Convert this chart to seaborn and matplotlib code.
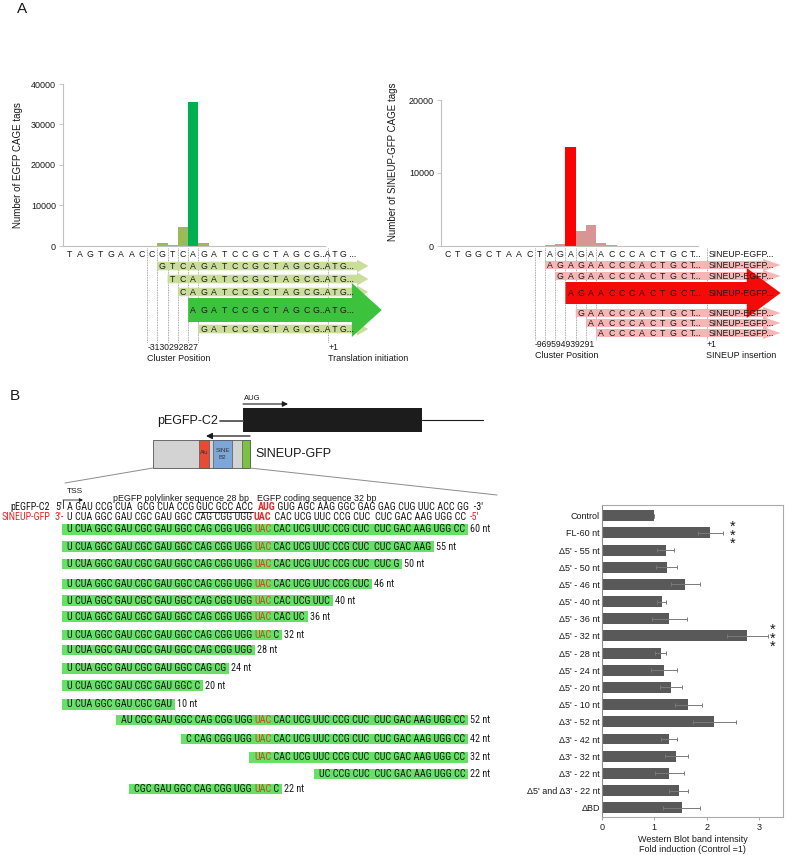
import numpy as np
import pandas as pd
import seaborn as sns
import matplotlib
matplotlib.use("Agg")
import matplotlib.pyplot as plt
from matplotlib import font_manager as fm
from matplotlib.transforms import blended_transform_factory
from matplotlib.patches import Polygon, Rectangle

# ---------------- data ----------------
egfp_bases = list("TAGTGAACCGTCAGATCCGCTAGCG")
egfp_tags = [0, 0, 0, 0, 0, 0, 0, 0, 0, 800, 300, 4800, 35500, 700,
             0, 0, 0, 0, 0, 0, 0, 0, 0, 0, 0]
egfp_peak = 12
egfp_clusters = ["-31", "30", "29", "28", "27"]
egfp_read_starts = [9, 10, 11, 12, 13]

sineup_bases = list("CTGGCTAACTAGAGAACCCACTGCT")
sineup_tags = [0, 0, 0, 0, 0, 0, 0, 0, 0, 60, 150, 300, 13600, 2100, 2900, 450, 80,
               0, 0, 0, 0, 0, 0, 0, 0]
sineup_peak = 12
sineup_clusters = ["-96", "95", "94", "93", "92", "91"]
sineup_read_starts = [10, 11, 12, 13, 14, 15]

constructs = ["Control", "FL-60 nt", "Δ5' - 55 nt", "Δ5' - 50 nt", "Δ5' - 46 nt",
              "Δ5' - 40 nt", "Δ5' - 36 nt", "Δ5' - 32 nt", "Δ5' - 28 nt", "Δ5' - 24 nt",
              "Δ5' - 20 nt", "Δ5' - 10 nt", "Δ3' - 52 nt", "Δ3' - 42 nt", "Δ3' - 32 nt",
              "Δ3' - 22 nt", "Δ5' and Δ3' - 22 nt", "ΔBD"]
fold_mean = [1.00, 2.07, 1.22, 1.24, 1.59, 1.14, 1.29, 2.78, 1.12, 1.19,
             1.32, 1.65, 2.15, 1.28, 1.42, 1.29, 1.47, 1.52]
fold_err = [0.0, 0.24, 0.16, 0.20, 0.28, 0.085, 0.34, 0.40, 0.11, 0.25,
            0.21, 0.26, 0.42, 0.15, 0.22, 0.28, 0.18, 0.35]
significant = ["FL-60 nt", "Δ5' - 32 nt"]
star_x = [2.50, 3.27]

sineup_full = "U CUA GGC GAU CGC GAU GGC CAG CGG UGG UAC CAC UCG UUC CCG CUC  CUC GAC AAG UGG CC"
deletion_seqs = [
    "U CUA GGC GAU CGC GAU GGC CAG CGG UGG UAC CAC UCG UUC CCG CUC  CUC GAC AAG UGG CC",
    "U CUA GGC GAU CGC GAU GGC CAG CGG UGG UAC CAC UCG UUC CCG CUC  CUC GAC AAG",
    "U CUA GGC GAU CGC GAU GGC CAG CGG UGG UAC CAC UCG UUC CCG CUC  CUC G",
    "U CUA GGC GAU CGC GAU GGC CAG CGG UGG UAC CAC UCG UUC CCG CUC",
    "U CUA GGC GAU CGC GAU GGC CAG CGG UGG UAC CAC UCG UUC",
    "U CUA GGC GAU CGC GAU GGC CAG CGG UGG UAC CAC UC",
    "U CUA GGC GAU CGC GAU GGC CAG CGG UGG UAC C",
    "U CUA GGC GAU CGC GAU GGC CAG CGG UGG",
    "U CUA GGC GAU CGC GAU GGC CAG CG",
    "U CUA GGC GAU CGC GAU GGC C",
    "U CUA GGC GAU CGC GAU",
    "AU CGC GAU GGC CAG CGG UGG UAC CAC UCG UUC CCG CUC  CUC GAC AAG UGG CC",
    "C CAG CGG UGG UAC CAC UCG UUC CCG CUC  CUC GAC AAG UGG CC",
    "UAC CAC UCG UUC CCG CUC  CUC GAC AAG UGG CC",
    "UC CCG CUC  CUC GAC AAG UGG CC",
    "CGC GAU GGC CAG CGG UGG UAC C",
]
deletion_nt = [60, 55, 50, 46, 40, 36, 32, 28, 24, 20, 10, 52, 42, 32, 22, 22]

pegfp_segments = [("A GAU CCG CUA  GCG CUA CCG ", "k", "normal"),
                  ("GUC GCC ACC", "k", "normal"),
                  ("  ", "k", "normal"),
                  ("AUG", "#e3262a", "bold"),
                  (" GUG AGC AAG GGC GAG GAG CUG UUC ACC GG  -3'", "k", "normal")]
sineup_segments = [("U CUA GGC GAU CGC GAU GGC CAG CGG UGG ", "k", "normal"),
                   ("UAC", "#e3262a", "bold"),
                   (" CAC UCG UUC CCG CUC  CUC GAC AAG UGG CC  ", "k", "normal"),
                   ("-5'", "#e3262a", "normal")]

# ---------------- style ----------------
sns.set_theme(style="white", context="paper")
plt.rcParams["font.family"] = ["Liberation Sans", "DejaVu Sans"]

_names = {f.name for f in fm.fontManager.ttflist}
SEQ_FAMILY = "Liberation Sans"
for _cand in ["Liberation Sans Narrow", "DejaVu Sans Condensed", "Roboto Condensed",
              "Open Sans Condensed"]:
    if _cand in _names:
        SEQ_FAMILY = _cand
        break


def adv(s, fs, family=None, weight="normal"):
    family = family or SEQ_FAMILY
    path = fm.findfont(fm.FontProperties(family=family, weight=weight))
    font = fm.get_font(path)
    font.set_size(fs, 100)
    tot = 0.0
    for ch in s:
        g = font.load_char(ord(ch))
        tot += g.linearHoriAdvance / 65536.0
    return tot


# the full 60-nt line spans ~398 px in the reference: pick the font size that fits
SEQ_FS = round(6.0 * 398.0 / adv(sineup_full, 6.0), 2)

W, H = 786, 855
fig = plt.figure(figsize=(W / 100, H / 100), dpi=100)


def axrect(x0, y0, x1, y1):
    return [x0 / W, 1 - y1 / H, (x1 - x0) / W, (y1 - y0) / H]


ov = fig.add_axes([0, 0, 1, 1], zorder=10)
ov.set_xlim(0, W)
ov.set_ylim(H, 0)
ov.axis("off")
ov.patch.set_alpha(0)

TXT = "#1a1a1a"


# ---------------- panel A ----------------
def hist_panel(rect, bases, tags, peak, peak_color, minor_color, ymax, yticks, ylabel, xlim, lab_xy):
    ax = fig.add_axes(rect)
    df = pd.DataFrame({"pos": [str(i) for i in range(len(bases))], "tags": tags})
    pal = {str(i): (peak_color if i == peak else minor_color) for i in range(len(bases))}
    sns.barplot(data=df, x="pos", y="tags", hue="pos", palette=pal, width=1.0,
                saturation=1, legend=False, ax=ax, linewidth=0, errorbar=None)
    ax.set_xlim(*xlim)
    ax.set_ylim(0, ymax)
    ax.set_yticks(yticks)
    ax.set_yticklabels([str(v) for v in yticks])
    ax.set_xticks([])
    ax.set_xlabel("")
    ax.set_ylabel(ylabel, fontsize=7, color=TXT)
    ax.yaxis.set_label_coords(*lab_xy)
    for s in ["top", "right"]:
        ax.spines[s].set_visible(False)
    for s in ["left", "bottom"]:
        ax.spines[s].set_color("#c0c0c0")
        ax.spines[s].set_linewidth(0.8)
    ax.tick_params(axis="y", left=True, length=3, width=0.6, color="#c0c0c0",
                   labelsize=6.5, pad=2, labelcolor=TXT)
    ax.patch.set_alpha(0)
    return ax


axL = hist_panel(axrect(63, 84, 325, 246), egfp_bases, egfp_tags, egfp_peak,
                 "#00b050", "#9bbb59", 40000, [0, 10000, 20000, 30000, 40000],
                 "Number of EGFP CAGE tags", (-0.654, 24.79), (-0.153, 0.5))
axR = hist_panel(axrect(441, 100, 698, 246), sineup_bases, sineup_tags, sineup_peak,
                 "#ff0000", "#d99594", 20000, [0, 10000, 20000],
                 "Number of SINEUP-GFP CAGE tags", (-0.654, 24.44), (-0.167, 0.575))

LET_FS = 6.3


def read_rows(ax, bases, starts, peak_start, row_y, light, dark, band_end, tip, big_head, big_tip,
              hh, HH, bh, BH, tail_text, extra_text, extra_x, axis_tail, clusters,
              line_bottom, plus_x, lab_y, plus_label):
    tr = blended_transform_factory(ax.transData, ov.transData)
    n = len(bases)
    for j in range(n - 1):
        ov.text(j, 254, bases[j], transform=tr, ha="center", va="center", fontsize=LET_FS, color=TXT)
    ov.text(n - 1 - 0.36, 254, axis_tail, transform=tr, ha="left", va="center", fontsize=LET_FS, color=TXT)
    if extra_text:
        ov.text(extra_x, 254, extra_text, transform=tr, ha="left", va="center", fontsize=LET_FS, color=TXT)
    for s, y in zip(starts, row_y):
        x0 = s - 0.5
        if s == peak_start:
            pts = [(x0, y - bh), (big_head, y - bh), (big_head, y - BH), (big_tip, y),
                   (big_head, y + BH), (big_head, y + bh), (x0, y + bh)]
            ov.add_patch(Polygon(pts, closed=True, transform=tr, facecolor=dark, edgecolor="none",
                                 zorder=3, clip_on=False))
        else:
            pts = [(x0, y - hh), (band_end, y - hh), (band_end, y - HH), (tip, y),
                   (band_end, y + HH), (band_end, y + hh), (x0, y + hh)]
            ov.add_patch(Polygon(pts, closed=True, transform=tr, facecolor=light, edgecolor="none",
                                 alpha=0.95, zorder=2, clip_on=False))
        for j in range(s, n - 1):
            ov.text(j, y, bases[j], transform=tr, ha="center", va="center", fontsize=LET_FS,
                    color=TXT, zorder=5)
        ov.text(n - 1 - 0.36, y, tail_text, transform=tr, ha="left", va="center",
                fontsize=LET_FS, color=TXT, zorder=5)
        if extra_text:
            ov.text(extra_x, y, extra_text, transform=tr, ha="left", va="center",
                    fontsize=LET_FS, color=TXT, zorder=5)
    first = min(starts) - 1.5
    for k in range(len(starts) + 1):
        c = first + k
        ov.plot([c, c], [248, line_bottom], transform=tr, ls=(0, (1, 1)), color="#8c8c8c",
                lw=0.6, zorder=1)
    ov.plot([plus_x, plus_x], [248, line_bottom], transform=tr, ls=(0, (1, 1)), color="#8c8c8c",
            lw=0.6, zorder=1)
    ov.text(first + 0.02, lab_y, "".join(clusters), transform=tr, ha="left", va="center",
            fontsize=6.2, color=TXT)
    ov.text(first + 0.02, lab_y + 11, "Cluster Position", transform=tr, ha="left", va="center",
            fontsize=6.5, color=TXT)
    ov.text(plus_x + 0.02, lab_y, "+1", transform=tr, ha="left", va="center", fontsize=6.2, color=TXT)
    ov.text(plus_x - 0.05, lab_y + 11, plus_label, transform=tr, ha="left", va="center",
            fontsize=6.5, color=TXT)


read_rows(axL, egfp_bases, egfp_read_starts, 12, [266, 279, 292, 310, 329],
          "#c9dc96", "#3cc23c", 27.9, 29.0, 27.4, 30.3, 4.3, 6.5, 12.0, 27.0,
          "G..A T G...", None, 0, "G..A T G ...", egfp_clusters, 343, 25.1, 347,
          "Translation initiation")
read_rows(axR, sineup_bases, sineup_read_starts, 12, [265, 276, 293, 313, 323, 333],
          "#f6b2b2", "#f50a0a", 30.8, 32.5, 29.2, 32.5, 4.0, 6.0, 11.0, 25.0,
          "T...", "SINEUP-EGFP...", 25.45, "T...", sineup_clusters, 340, 25.3, 344,
          "SINEUP insertion")

ov.text(22, 9, "A", fontsize=11, ha="center", va="center", color=TXT)
ov.text(15, 396, "B", fontsize=11, ha="center", va="center", color=TXT)

# ---------------- panel B schematic ----------------
ov.text(252, 398, "AUG", fontsize=5.5, ha="center", va="center", color=TXT)
ov.annotate("", xy=(288, 404), xytext=(243, 404),
            arrowprops=dict(arrowstyle="-|>", color="k", lw=0.8, mutation_scale=8, shrinkA=0, shrinkB=0))
ov.text(218, 421, "pEGFP-C2", fontsize=9, ha="right", va="center", color=TXT)
ov.plot([220, 243], [421, 421], color="#555555", lw=1.3)
ov.add_patch(Rectangle((243, 408), 179, 24, facecolor="#1c1c1c", edgecolor="none"))
ov.plot([422, 483], [420, 420], color="k", lw=0.8)
ov.annotate("", xy=(206, 436), xytext=(250, 436),
            arrowprops=dict(arrowstyle="-|>", color="k", lw=0.9, mutation_scale=9, shrinkA=0, shrinkB=0))
ov.add_patch(Rectangle((153, 440), 97, 28, facecolor="#d3d3d3", edgecolor="#555555", lw=0.6))
ov.add_patch(Rectangle((199, 440), 10, 28, facecolor="#e84a34", edgecolor="#555555", lw=0.5))
ov.add_patch(Rectangle((213, 440), 19, 28, facecolor="#7ea7d9", edgecolor="#555555", lw=0.5))
ov.add_patch(Rectangle((242, 440), 8, 28, facecolor="#7dc143", edgecolor="#555555", lw=0.5))
ov.text(204, 452, "Alu", fontsize=4.2, ha="center", va="center", color="#333333")
ov.text(222.5, 454, "SINE\nB2", fontsize=4.5, ha="center", va="center", color="#333333", linespacing=1.5)
ov.text(255, 454, "SINEUP-GFP", fontsize=9, ha="left", va="center", color=TXT)
ov.plot([153, 65], [468, 483], color="#8c8c8c", lw=0.7)
ov.plot([250, 497], [468, 495], color="#8c8c8c", lw=0.7)


# ---------------- sequences ----------------
def draw_segments(x, y, segs, fs=SEQ_FS, z=5):
    xs = []
    for text, col, wt in segs:
        xs.append(x)
        ov.text(x, y, text, fontsize=fs, family=[SEQ_FAMILY, "DejaVu Sans"], weight=wt,
                color=col, ha="left", va="center", zorder=z)
        x += adv(text, fs, weight=wt)
    return xs, x


SEQ_X0 = 67
ov.text(67, 491, "TSS", fontsize=6, ha="left", va="center", color=TXT)
ov.plot([63, 63], [508, 500], color="k", lw=0.6)
ov.annotate("", xy=(83, 500), xytext=(63, 500),
            arrowprops=dict(arrowstyle="-|>", color="k", lw=0.6, mutation_scale=5, shrinkA=0, shrinkB=0))
ov.text(249, 498, "pEGFP polylinker sequence 28 bp", fontsize=6.4, ha="right", va="center", color=TXT)
ov.text(257, 498, "EGFP coding sequence 32 bp", fontsize=6.4, ha="left", va="center", color=TXT)

ov.text(50, 507, "pEGFP-C2", fontsize=SEQ_FS, family=[SEQ_FAMILY, "DejaVu Sans"], ha="right",
        va="center", color=TXT)
ov.text(55, 507, "5'", fontsize=SEQ_FS, family=[SEQ_FAMILY, "DejaVu Sans"], ha="left",
        va="center", color=TXT)
xs, _ = draw_segments(SEQ_X0, 507, pegfp_segments)
ov.plot([xs[1], xs[1] + adv(pegfp_segments[1][0], SEQ_FS)], [512.3, 512.3], color="k", lw=0.7)

ov.text(50, 517, "SINEUP-GFP", fontsize=SEQ_FS, family=[SEQ_FAMILY, "DejaVu Sans"], ha="right",
        va="center", color="#e3262a")
ov.text(55, 517, "3'-", fontsize=SEQ_FS, family=[SEQ_FAMILY, "DejaVu Sans"], ha="left",
        va="center", color="#e3262a")
draw_segments(SEQ_X0, 517, sineup_segments)

row_y = [529.3, 546.7, 564, 584, 600.7, 616.7, 635, 650, 668.3, 685.7, 704.3,
         720, 739, 757.3, 774, 789]
for seq, nt, y in zip(deletion_seqs, deletion_nt, row_y):
    start = sineup_full.find(seq)
    x = SEQ_X0 + adv(sineup_full[:start], SEQ_FS)
    w = adv(seq, SEQ_FS)
    ov.add_patch(Rectangle((x - 5, y - 5.4), w + 8, 10.8, facecolor="#66e066", edgecolor="none", zorder=2))
    if "UAC" in seq:
        i = seq.find("UAC")
        segs = [(seq[:i], TXT, "normal"), ("UAC", "#d9441c", "normal"), (seq[i + 3:], TXT, "normal")]
        segs = [s for s in segs if s[0]]
    else:
        segs = [(seq, TXT, "normal")]
    draw_segments(x, y, segs)
    ov.text(x + w + 5, y, f"{nt} nt", fontsize=SEQ_FS, family=[SEQ_FAMILY, "DejaVu Sans"],
            ha="left", va="center", color=TXT)

# ---------------- bar chart ----------------
axB = fig.add_axes(axrect(602, 505, 783, 817))
dfB = pd.DataFrame({"construct": constructs, "fold": fold_mean})
sns.barplot(data=dfB, y="construct", x="fold", color="#595959", width=0.64, ax=axB,
            saturation=1, orient="h", errorbar=None, linewidth=0)
ypos = np.arange(len(constructs))
axB.errorbar(fold_mean, ypos, xerr=fold_err, fmt="none", ecolor="#7a7a7a",
             elinewidth=0.7, capsize=1.6, capthick=0.7)
for name, sx in zip(significant, star_x):
    i = constructs.index(name)
    axB.text(sx, i + 0.15, "*\n*\n*", ha="center", va="center", fontsize=10.5, color=TXT,
             linespacing=0.5)
axB.set_xlim(0, 3.46)
axB.set_ylim(17.54, -0.62)
axB.set_xticks([0, 1, 2, 3])
axB.set_xticklabels(["0", "1", "2", "3"])
axB.set_ylabel("")
axB.set_xlabel("Western Blot band intensity\nFold induction (Control =1)", fontsize=6.5,
               color=TXT, labelpad=2, linespacing=1.15)
axB.tick_params(axis="y", left=False, length=0, labelsize=6.5, pad=1.5, labelcolor=TXT)
axB.tick_params(axis="x", bottom=True, length=2.5, width=0.6, color="#999999",
                labelsize=6.5, pad=2, labelcolor=TXT)
for s in ["top", "right", "bottom"]:
    axB.spines[s].set_color("#aaaaaa")
    axB.spines[s].set_linewidth(0.8)
axB.spines["left"].set_color("#8a8a8a")
axB.spines["left"].set_linewidth(0.8)

fig.savefig("out.png", dpi=100)
